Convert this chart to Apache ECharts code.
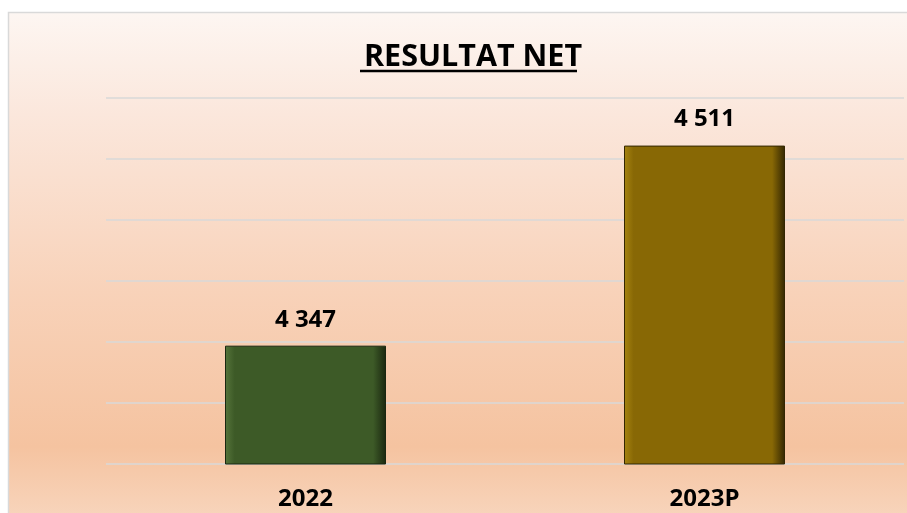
<!DOCTYPE html>
<html>
<head>
<meta charset="utf-8">
<script src="https://cdn.jsdelivr.net/npm/echarts@6/dist/echarts.min.js"></script>
<style>
html, body { margin: 0; padding: 0; background: #ffffff; }
#main { width: 907px; height: 513px; }
</style>
</head>
<body>
<div id="main"></div>
<script>
var categories = ['2022', '2023P'];
var values = [4347, 4511];
var barColors = [['#56753b', '#3d5a27', '#1a2710'], ['#a68410', '#886805', '#332602']];

// axe Y caché : 4250 -> 4550 par pas de 50
var yMin = 4250;
var yMax = 4550;
var yStep = 50;

function fmt(v) {
    return String(v).replace(/\B(?=(\d{3})+(?!\d))/g, ' ');
}

var chart = echarts.init(document.getElementById('main'));

var barData = [];
for (var i = 0; i < values.length; i++) {
    barData.push({
        value: values[i],
        itemStyle: {
            color: new echarts.graphic.LinearGradient(0, 0, 1, 0, [
                {offset: 0, color: barColors[i][0]},
                {offset: 0.06, color: barColors[i][1]},
                {offset: 0.92, color: barColors[i][1]},
                {offset: 1, color: barColors[i][2]}
            ]),
            borderColor: barColors[i][2],
            borderWidth: 1
        }
    });
}

var option = {
    backgroundColor: '#ffffff',
    animation: false,
    graphic: [
        {
            type: 'rect',
            z: -10,
            shape: {x: 8.5, y: 12.5, width: 905, height: 510},
            style: {
                fill: new echarts.graphic.LinearGradient(0, 0, 0, 1, [
                    {offset: 0, color: '#fdf6f2'},
                    {offset: 0.2, color: '#fbe7dc'},
                    {offset: 0.55, color: '#f8d2b9'},
                    {offset: 0.85, color: '#f5c3a0'},
                    {offset: 1, color: '#f8d6be'}
                ]),
                stroke: '#d9d9d9',
                lineWidth: 1.5
            }
        },
        {
            type: 'line',
            shape: {x1: 360, y1: 71, x2: 577, y2: 71},
            style: {stroke: '#000000', lineWidth: 2.5}
        }
    ],
    title: {
        text: 'RESULTAT NET',
        left: 468,
        textAlign: 'center',
        top: 37,
        textStyle: {
            fontFamily: 'Open Sans',
            fontWeight: 'bold',
            fontSize: 30.5,
            color: '#000000'
        }
    },
    grid: {
        left: 106,
        right: 3,
        top: 98,
        bottom: 49
    },
    xAxis: {
        type: 'category',
        data: categories,
        axisLine: {show: false},
        axisTick: {show: false},
        axisLabel: {
            margin: 23,
            fontFamily: 'Open Sans',
            fontWeight: 'bold',
            fontSize: 24,
            color: '#000000'
        }
    },
    yAxis: {
        type: 'value',
        min: yMin,
        max: yMax,
        interval: yStep,
        axisLabel: {show: false},
        axisLine: {show: false},
        axisTick: {show: false},
        splitLine: {lineStyle: {color: '#d9d9d9', width: 1.5}}
    },
    series: [{
        type: 'bar',
        data: barData,
        barWidth: 161,
        label: {
            show: true,
            position: 'top',
            distance: 14,
            fontFamily: 'Open Sans',
            fontWeight: 'bold',
            fontSize: 24,
            color: '#000000',
            formatter: function (p) {
                return fmt(p.value);
            }
        }
    }]
};

chart.setOption(option);
</script>
</body>
</html>
